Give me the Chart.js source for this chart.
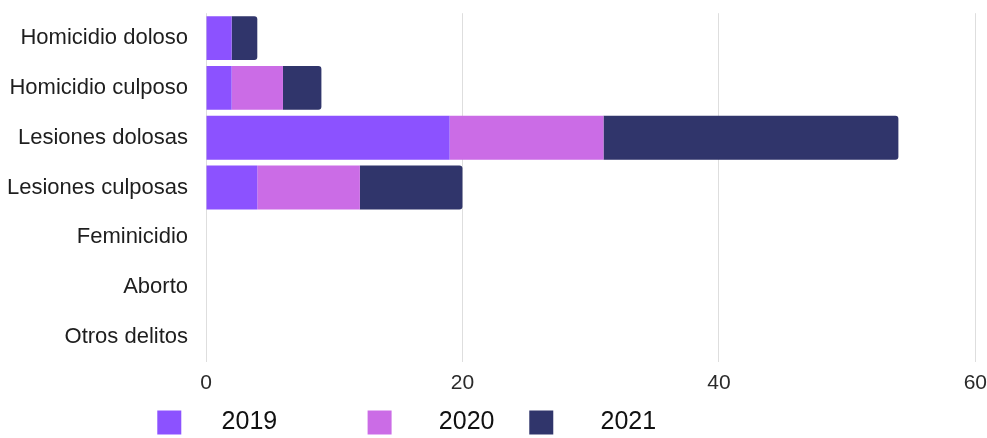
<!DOCTYPE html>
<html>
<head>
<meta charset="utf-8">
<script src="https://cdn.jsdelivr.net/npm/chart.js@4.4.0/dist/chart.umd.min.js"></script>
<style>
  html, body { margin: 0; padding: 0; background: #fff; overflow: hidden; }
  .chart-box { position: absolute; left: 0; top: 0; width: 987px; height: 445px; }
</style>
</head>
<body>
<div class="chart-box"><canvas id="delitos-chart"></canvas></div>
<script>
// delitos por tipo y año

let categories = [
    "Homicidio doloso",
    "Homicidio culposo",
    "Lesiones dolosas",
    "Lesiones culposas",
    "Feminicidio",
    "Aborto",
    "Otros delitos"
];
let years = ["2019", "2020", "2021"];
let values2019 = [2, 2, 19, 4, 0, 0, 0];
let values2020 = [0, 4, 12, 8, 0, 0, 0];
let values2021 = [2, 3, 23, 8, 0, 0, 0];
let xTicks = [0, 20, 40, 60];

Chart.defaults.font.family = "'Liberation Sans', Arial, sans-serif";

// spaces around legend text, to get the wide gaps of the original
let padBefore = [4, 5, 5];
let padAfter = [11, 3, 26];

let chart = document.querySelector('#delitos-chart');

let Data = {
    labels: categories,
    datasets: [
        {
            label: years[0],
            data: values2019,
            backgroundColor: "#8c52ff",
            borderRadius: 0
        },
        {
            label: years[1],
            data: values2020,
            backgroundColor: "#cb6ce6",
            borderRadius: 0
        },
        {
            label: years[2],
            data: values2021,
            backgroundColor: "#30356b",
            borderRadius: 3,
            borderSkipped: 'start'
        }
    ]
};

let Options = {
    indexAxis: 'y',
    responsive: true,
    maintainAspectRatio: false,
    animation: { duration: 0 },
    layout: {
        padding: { top: 12, left: 7, right: 0, bottom: 0 }
    },
    datasets: {
        bar: {
            categoryPercentage: 0.9,
            barPercentage: 0.98
        }
    },
    scales: {
        x: {
            stacked: true,
            min: 0,
            max: 60,
            afterBuildTicks: (s) => { s.ticks = xTicks.map(v => ({ value: v })); },
            grid: {
                color: "#dedede",
                drawTicks: true,
                tickLength: 9,
                tickColor: "rgba(0,0,0,0)"
            },
            border: { display: false },
            ticks: {
                padding: 0,
                color: "#2a2a2a",
                font: { size: 21 }
            }
        },
        y: {
            stacked: true,
            grid: { display: false, drawTicks: true, tickLength: 18 },
            border: { display: false },
            ticks: {
                padding: 0,
                color: "#1e1e1e",
                font: { size: 22 }
            }
        }
    },
    plugins: {
        tooltip: { enabled: false },
        legend: {
            display: true,
            position: "bottom",
            labels: {
                boxWidth: 24,
                boxHeight: 24,
                padding: 14,
                color: "#111",
                font: { size: 25 },
                generateLabels: (c) => {
                    let items = Chart.defaults.plugins.legend.labels.generateLabels(c);
                    items.forEach((it, i) => {
                        it.text = " ".repeat(padBefore[i]) + it.text + " ".repeat(padAfter[i]);
                        it.lineWidth = 0;
                    });
                    return items;
                }
            }
        }
    }
};

let delitosChart = new Chart(chart, {
    type: "bar",
    data: Data,
    options: Options
});
</script>
</body>
</html>
